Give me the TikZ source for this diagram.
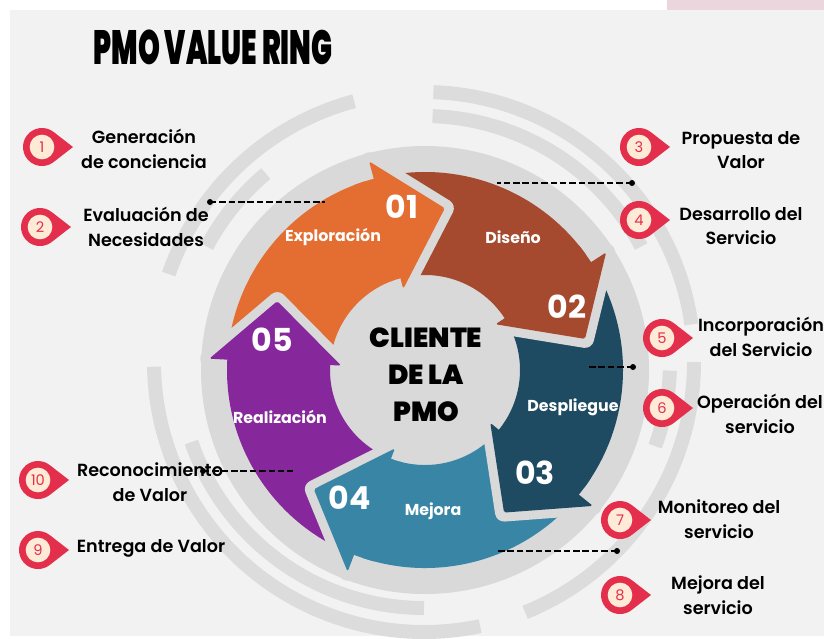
\documentclass[tikz,border=0pt]{standalone}
\usepackage{fontspec}
\setmainfont{Poppins}
\newfontfamily\semib{Poppins SemiBold}
\newfontfamily\xbold{Poppins ExtraBold}
\newfontfamily\blackf{Poppins Black}
\usetikzlibrary{positioning}
\definecolor{paper}{HTML}{F2F2F2}
\definecolor{pinktop}{HTML}{EBD6DE}
\definecolor{ringgray}{HTML}{DCDCDC}
\definecolor{disc}{HTML}{D9D9D9}
\definecolor{stepA}{HTML}{E46D32}
\definecolor{stepB}{HTML}{A54A2F}
\definecolor{stepC}{HTML}{1E4B62}
\definecolor{stepD}{HTML}{3985A5}
\definecolor{stepE}{HTML}{86289C}
\definecolor{badgered}{HTML}{E42F4C}
\definecolor{cream}{HTML}{FDEBD8}

\begin{document}
\begin{tikzpicture}[x=0.03cm, y=0.03cm,
    stepnum/.style={text=white, font=\bfseries\fontsize{27}{27}\selectfont},
    steplbl/.style={text=white, font=\bfseries\fontsize{13.5}{14}\selectfont},
    side/.style={align=center, inner sep=0pt, font=\semib\fontsize{15}{21}\selectfont},
    badge/.style={circle, fill=cream, minimum size=0.74cm, inner sep=0pt,
      text=badgered, font=\fontsize{12.5}{12.5}\selectfont},
    ring/.style={ringgray, line width=0.42cm},
    leader/.style={black, line width=1.1pt, dash pattern=on 5.5pt off 2.5pt},
  ]
  \useasboundingbox (0,0) rectangle (824,-638);
  \fill[white] (0,0) rectangle (824,-638);
  \fill[paper] (10,-10) rectangle (824,-636);
  \fill[pinktop] (667,0) rectangle (824,-10);

  % title
  \node (title) at (213,-47) {\scalebox{0.58}[1]{\blackf\fontsize{41}{41}\selectfont PMO VALUE RING}};

  % broken rings behind the wheel
  \begin{scope}[shift={(424,-362)}]
    \foreach \a/\b/\r in {8/88/270, 105/161/270, 181/282/270, -68/0/270,
                          28/88/246, 130/152/246, 199/270/246, -20/-2/246}
      \draw[ring] (\a:\r) arc[start angle=\a, end angle=\b, radius=\r];
  \end{scope}

  % the wheel of five arrows
  \begin{scope}[shift={(425,-370)}]
    \fill[disc] (0,0) circle[radius=224];
    \foreach \t/\c in {83/stepA, 11/stepB, -61/stepC, -133/stepD, 155/stepE}{
      \pgfmathsetmacro\tl{\t+93}
      \pgfmathsetmacro\hb{\t+22}
      \fill[\c] (\tl:95) arc[start angle=\tl, end angle=\hb, radius=95]
        -- (\hb:198) arc[start angle=\hb, end angle=\tl, radius=198] -- cycle;
    }
    % gap round every head
    \foreach \t in {83, 11, -61, -133, 155}{
      \pgfmathsetmacro\hb{\t+22}
      \draw[disc, line width=0.54cm, line join=round]
        (\hb:216) -- (\t:163) -- (\hb:84) -- cycle;
    }
    \foreach \t/\c in {83/stepA, 11/stepB, -61/stepC, -133/stepD, 155/stepE}{
      \pgfmathsetmacro\ra{\t+21.5}
      \pgfmathsetmacro\rb{\t+28}
      \fill[\c] (\rb:95) arc[start angle=\rb, end angle=\ra, radius=95]
        -- (\ra:198) arc[start angle=\ra, end angle=\rb, radius=198] -- cycle;
      \pgfmathsetmacro\hb{\t+22}
      \fill[\c, rounded corners=1.5pt] (\hb:216) -- (\t:163) -- (\hb:84) -- cycle;
    }
  \end{scope}

  \node[stepnum] (n1) at (402,-207) {01};
  \node[stepnum] (n2) at (567,-307) {02};
  \node[stepnum] (n3) at (535,-473) {03};
  \node[stepnum] (n4) at (350,-498) {04};
  \node[stepnum] (n5) at (272,-340) {05};
  \node[steplbl] (s1) at (333,-237) {Exploración};
  \node[steplbl] (s2) at (513,-237) {Diseño};
  \node[steplbl] (s3) at (573,-407) {Despliegue};
  \node[steplbl] (s4) at (433,-511) {Mejora};
  \node[steplbl] (s5) at (280,-417) {Realización};

  \node[align=center, font=\blackf\fontsize{23.5}{31.5}\selectfont] (core) at (426,-375)
    {CLIENTE\\DE LA\\PMO};

  % leaders
  \coordinate (p1) at (210,-202); \coordinate (q1) at (325,-202);
  \coordinate (p2) at (632,-183); \coordinate (q2) at (497,-183);
  \coordinate (p3) at (633,-367); \coordinate (q3) at (588,-367);
  \coordinate (p4) at (617,-551); \coordinate (q4) at (497,-551);
  \coordinate (p5) at (203,-471); \coordinate (q5) at (293,-471);
  \foreach \i in {1,...,5}{
    \draw[leader] (p\i) -- (q\i);
    \fill (p\i) circle[radius=3];
  }

  % numbered markers
  \foreach \n/\x/\y in {1/42/147, 2/40/227, 3/639/147, 4/639/220, 5/662/338,
                        6/662/408, 7/620/520, 8/620/595, 9/38/550, 10/38/480}{
    \fill[badgered, shift={(\x,-\y)}] (52:19) arc[start angle=52, end angle=308, radius=19]
      -- (31,0) -- cycle;
    \node[badge] (b\n) at (\x,-\y) {\n};
  }

  \node[side] (t1) at (144,-149) {Generación\\de conciencia};
  \node[side] (t2) at (146,-227) {Evaluación de\\Necesidades};
  \node[side] (t3) at (741,-150) {Propuesta de\\Valor};
  \node[side] (t4) at (741,-226) {Desarrollo del\\Servicio};
  \node[side] (t5) at (761,-337) {Incorporación\\del Servicio};
  \node[side] (t6) at (760,-414) {Operación del\\servicio};
  \node[side] (t7) at (719,-519) {Monitoreo del\\servicio};
  \node[side] (t8) at (718,-595) {Mejora del\\servicio};
  \node[side] (t10) at (150,-482) {Reconocimiento\\de Valor};
  \node[side] (t9) at (151,-548) {Entrega de Valor};
\end{tikzpicture}
\end{document}
